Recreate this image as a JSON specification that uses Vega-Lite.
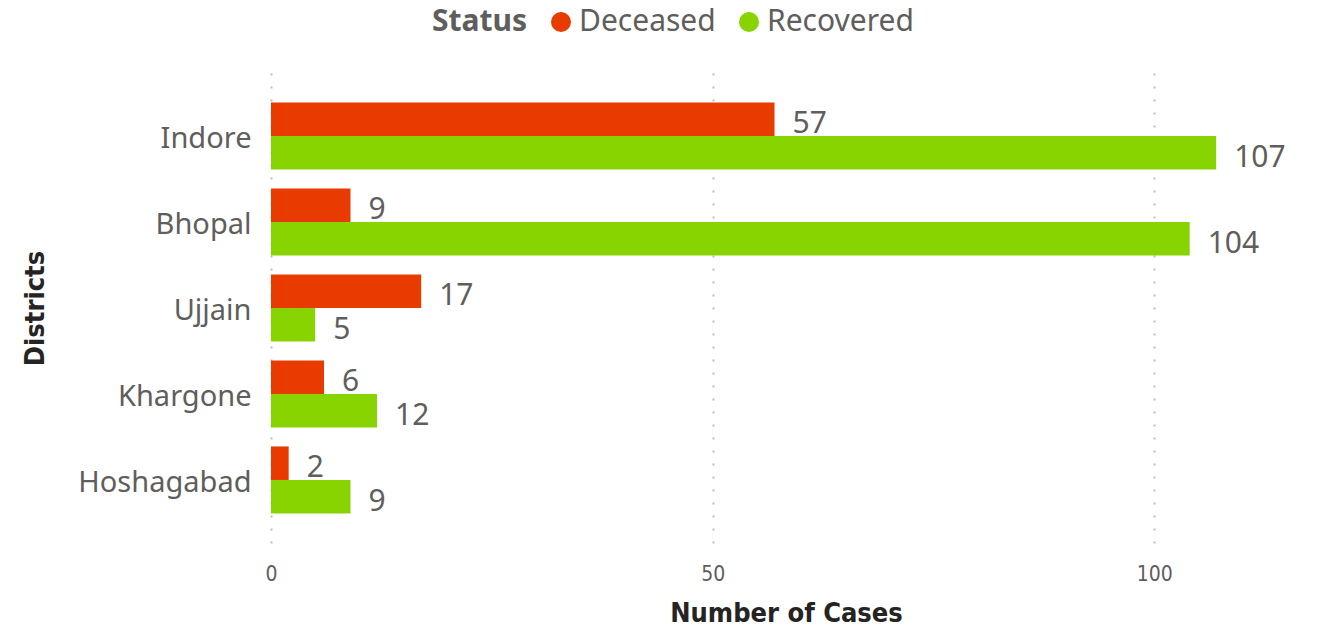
{
  "$schema": "https://vega.github.io/schema/vega-lite/v6.json",
  "width": 1030,
  "height": 470,
  "autosize": {"type": "none"},
  "padding": {"left": 271, "top": 73, "right": 20, "bottom": 84},
  "background": "white",
  "config": {
    "view": {"stroke": null},
    "font": "Noto Sans"
  },
  "data": {
    "values": [
      {"District": "Indore", "Status": "Deceased", "Cases": 57},
      {"District": "Indore", "Status": "Recovered", "Cases": 107},
      {"District": "Bhopal", "Status": "Deceased", "Cases": 9},
      {"District": "Bhopal", "Status": "Recovered", "Cases": 104},
      {"District": "Ujjain", "Status": "Deceased", "Cases": 17},
      {"District": "Ujjain", "Status": "Recovered", "Cases": 5},
      {"District": "Khargone", "Status": "Deceased", "Cases": 6},
      {"District": "Khargone", "Status": "Recovered", "Cases": 12},
      {"District": "Hoshagabad", "Status": "Deceased", "Cases": 2},
      {"District": "Hoshagabad", "Status": "Recovered", "Cases": 9}
    ]
  },
  "encoding": {
    "y": {
      "field": "District",
      "type": "nominal",
      "sort": ["Indore", "Bhopal", "Ujjain", "Khargone", "Hoshagabad"],
      "scale": {"paddingInner": 0.22, "paddingOuter": 0.343},
      "axis": {
        "title": "Districts",
        "titleFont": "DejaVu Sans Condensed",
        "titleFontSize": 27,
        "titleFontWeight": "bold",
        "titleColor": "#252423",
        "titlePadding": 28,
        "labelFont": "Noto Sans",
        "labelFontSize": 29,
        "labelColor": "#605E5C",
        "labelPadding": 20,
        "labelOffset": 3,
        "ticks": false,
        "domain": false,
        "grid": false
      }
    },
    "yOffset": {"field": "Status", "type": "nominal", "sort": ["Deceased", "Recovered"]},
    "x": {
      "field": "Cases",
      "type": "quantitative",
      "scale": {"domain": [0, 116.6], "nice": false},
      "axis": {
        "title": "Number of Cases",
        "titleFont": "DejaVu Sans Condensed",
        "titleFontSize": 27,
        "titleFontWeight": "bold",
        "titleColor": "#252423",
        "titlePadding": 16,
        "values": [0, 50, 100],
        "labelFont": "DejaVu Sans Condensed",
        "labelFontSize": 21,
        "labelColor": "#605E5C",
        "labelPadding": 20,
        "labelFlush": false,
        "ticks": false,
        "domain": false,
        "grid": true,
        "gridColor": "#BDBDBD",
        "gridDash": [2, 11],
        "gridWidth": 2
      }
    },
    "color": {
      "field": "Status",
      "type": "nominal",
      "scale": {"domain": ["Deceased", "Recovered"], "range": ["#E93A00", "#88D400"]},
      "legend": {
        "orient": "none",
        "legendX": 161,
        "legendY": -66,
        "direction": "horizontal",
        "title": "Status",
        "titleOrient": "left",
        "titleFont": "Noto Sans",
        "titleFontSize": 30,
        "titleFontWeight": "bold",
        "titleColor": "#605E5C",
        "titlePadding": 18,
        "labelFont": "Noto Sans",
        "labelFontSize": 30,
        "labelColor": "#605E5C",
        "labelOffset": 3,
        "symbolType": "circle",
        "symbolSize": 400,
        "symbolStrokeWidth": 0,
        "columnPadding": 18
      }
    }
  },
  "layer": [
    {"mark": {"type": "bar"}},
    {
      "mark": {"type": "text", "align": "left", "baseline": "middle", "dx": 18, "dy": 5, "fontSize": 30, "color": "#605E5C", "font": "Noto Sans"},
      "encoding": {
        "text": {"field": "Cases", "type": "quantitative"},
        "color": {"value": "#605E5C"}
      }
    }
  ]
}
